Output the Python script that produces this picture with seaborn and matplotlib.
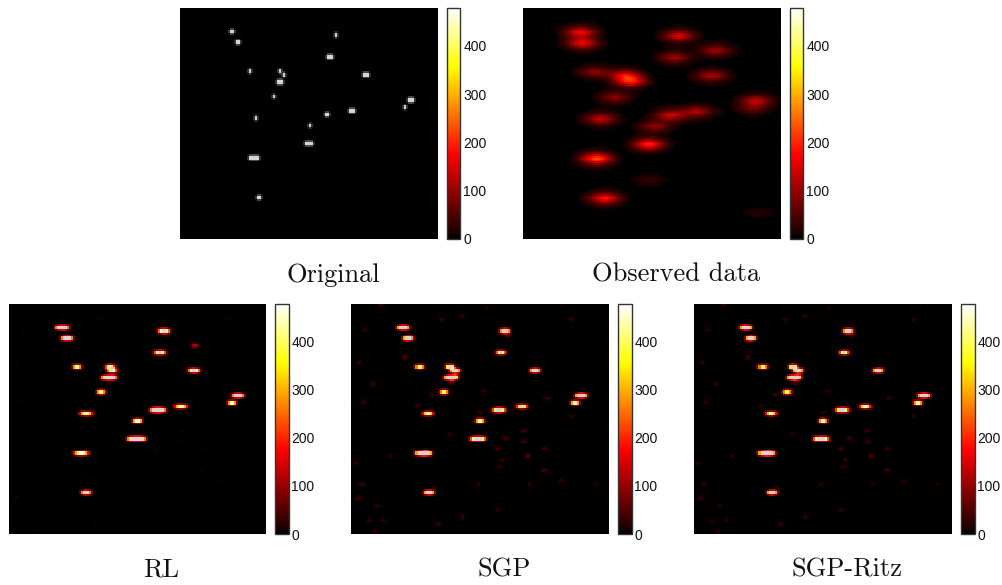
from matplotlib import pyplot as plt
from matplotlib.cm import ScalarMappable
from matplotlib.colors import ListedColormap, Normalize
import numpy as np
import seaborn as sns

VMAX = 478
GRID = 128
tick_values = [0, 100, 200, 300, 400]

# true sources: left column, width in columns, row
orig_cols = [25, 28, 77, 73, 34, 49, 51, 48, 91, 46, 113, 111, 84, 72, 37, 64, 62, 34, 38]
orig_widths = [2, 2, 1, 3, 1, 1, 1, 3, 3, 1, 3, 1, 3, 2, 1, 1, 4, 5, 2]
orig_rows = [12, 18, 14, 26, 34, 34, 36, 40, 36, 48, 50, 54, 56, 58, 60, 64, 74, 82, 104]

# observed blobs: column, row, peak
obs_cols = [28, 29, 77, 75, 95, 93, 35, 50, 53, 45, 115, 113, 38, 65, 73, 86, 62, 36, 40, 62, 116]
obs_rows = [13, 19, 15, 27, 23, 37, 35, 37, 40, 49, 51, 55, 61, 65, 59, 57, 75, 83, 105, 95, 113]
obs_peaks = [165, 160, 150, 105, 105, 115, 90, 150, 180, 90, 125, 60, 130, 95, 140, 120, 205, 235, 185, 28, 18]
psf_x = [.01, .03, .06, .1, .15, .21, .29, .38, .48, .59, .7, .8, .89, .96, 1,
         .96, .89, .8, .7, .59, .48, .38, .29, .21, .15, .1, .06, .03, .01]
psf_y = [.02, .05, .1, .2, .36, .6, .85, 1, .85, .6, .36, .2, .1, .05, .02]

# recovered sources: left column, width, row, peak
rl_cols = [24, 27, 75, 73, 92, 33, 49, 50, 47, 90, 45, 112, 110, 83, 71, 36, 63, 60, 33, 37]
rl_widths = [5, 4, 4, 4, 1, 2, 3, 3, 6, 4, 2, 4, 2, 5, 6, 5, 2, 7, 6, 3]
rl_rows = [12, 18, 14, 26, 22, 34, 34, 36, 40, 36, 48, 50, 54, 56, 58, 60, 64, 74, 82, 104]
rl_peaks = [900, 900, 850, 800, 500, 950, 720, 800, 900, 850, 950, 900, 980, 560, 900, 560, 1050, 900, 560, 900]

sgp_cols = [24, 27, 75, 73, 33, 48, 50, 47, 90, 45, 112, 110, 83, 71, 36, 63, 60, 33, 37]
sgp_widths = [4, 3, 3, 3, 2, 2, 3, 5, 3, 2, 4, 2, 4, 5, 4, 2, 6, 6, 3]
sgp_rows = [12, 18, 14, 26, 34, 34, 36, 40, 36, 48, 50, 54, 56, 58, 60, 64, 74, 82, 104]
sgp_peaks = [1000, 1000, 950, 800, 900, 1200, 1000, 1000, 1000, 900, 1000, 1000, 650, 750, 600, 1000, 800, 1000, 1000]

ritz_peaks = [1000, 1000, 950, 780, 880, 1200, 1000, 1000, 1000, 900, 1000, 980, 630, 730, 600, 980, 800, 1000, 1000]

# faint specks in the restored images: column, row, value
speck_cols = [14, 6, 26, 66, 108, 3, 10, 5, 39, 32, 54, 65, 85, 96, 108, 63, 72, 87, 95, 74, 73, 1, 4, 3, 18,
              12, 15, 85, 76, 48, 44, 8, 11, 2, 40, 62, 88, 103, 120, 95, 42, 72, 54,
              77, 49, 26, 36, 51]
speck_rows = [0, 14, 20, 2, 8, 32, 44, 54, 50, 56, 6, 48, 70, 52, 62, 60, 80, 84, 80, 86, 90, 88, 100, 107,
              84, 112, 120, 76, 74, 72, 8, 120, 126, 108, 102, 100, 100, 98, 100, 92, 122, 114, 118,
              17, 43, 29, 81, 39]
speck_vals = [30, 28, 30, 25, 28, 38, 32, 36, 40, 34, 30, 26, 42, 36, 28, 30, 46, 52, 34, 40, 30, 26, 44, 26,
              24, 30, 30, 48, 44, 26, 28, 30, 30, 26, 28, 32, 30, 28, 22, 40, 34, 30, 32,
              70, 90, 50, 60, 130]

titles = ['Original', 'Observed data', 'RL', 'SGP', 'SGP-Ritz']

# pixel boxes in the picture: left, right, top, bottom
panel_boxes = [(180, 438, 8, 239), (523, 781, 8, 239), (9, 266, 304, 534), (351, 609, 304, 534), (694, 952, 304, 534)]
FIG_W, FIG_H = 1003, 585

blur_x = [.1, .25, .3, .25, .1]
blur_y = [.18, .64, .18]


def smooth(img, kx, ky):
    out = np.apply_along_axis(lambda r: np.convolve(r, kx, mode='same'), 1, img)
    return np.apply_along_axis(lambda c: np.convolve(c, ky, mode='same'), 0, out)


def sources(cols, widths, rows, peaks, kx=blur_x, ky=blur_y):
    img = np.zeros((GRID, GRID))
    for c, w, r, p in zip(cols, widths, rows, peaks):
        img[r:r + 2, c:c + w] = p
    return smooth(img, kx, ky)


def specks(scale):
    img = np.zeros((GRID, GRID))
    for c, r, v in zip(speck_cols, speck_rows, speck_vals):
        img[r, c:c + 2] = v * scale
    return smooth(img, [.25, .5, .25], [.25, .5, .25]) * 2.2


original = sources(orig_cols, orig_widths, orig_rows, [VMAX] * len(orig_cols), [.2, .8, .2], [.25, .75, .25])

observed = np.zeros((GRID, GRID))
for c, r, p in zip(obs_cols, obs_rows, obs_peaks):
    observed[r, c] = p
observed = smooth(observed, psf_x, psf_y)

rl = sources(rl_cols, rl_widths, rl_rows, rl_peaks) + specks(.25)
sgp = sources(sgp_cols, sgp_widths, sgp_rows, sgp_peaks) + specks(1)
ritz = sources(sgp_cols, sgp_widths, sgp_rows, ritz_peaks) + specks(.85)
images = [original, observed, rl, sgp, ritz]

# the hot map, but truly black at the bottom end
hot_colors = plt.get_cmap('hot')(np.linspace(0, 1, 256))
hot_colors[:3] = [0, 0, 0, 1]
hot = ListedColormap(hot_colors)
hot.set_over('#d4d4d4')
gray = plt.get_cmap('gray').copy()
gray.set_over('#d4d4d4')
cmaps = [gray, hot, hot, hot, hot]
norm = Normalize(0, VMAX)

sns.set_theme(style='white')
plt.rcParams['font.family'] = ['Liberation Sans', 'DejaVu Sans']
fig = plt.figure(figsize=(FIG_W / 100, FIG_H / 100), dpi=100)

for img, cmap, title, (x0, x1, y0, y1) in zip(images, cmaps, titles, panel_boxes):
    ax = fig.add_axes([x0 / FIG_W, 1 - y1 / FIG_H, (x1 - x0) / FIG_W, (y1 - y0) / FIG_H])
    sns.heatmap(img, ax=ax, cmap=cmap, vmin=0, vmax=VMAX, cbar=False,
                xticklabels=False, yticklabels=False, square=False)
    ax.set_aspect('auto')

    cax = fig.add_axes([(x1 + 9) / FIG_W, 1 - y1 / FIG_H, 13.5 / FIG_W, (y1 - y0) / FIG_H])
    cb = fig.colorbar(ScalarMappable(norm, hot), cax=cax, ticks=tick_values)
    cb.outline.set_edgecolor('#333333')
    cb.outline.set_linewidth(1)
    cax.tick_params(axis='y', which='major', direction='in', length=2.5, width=.6,
                    left=True, right=True, pad=2, labelsize=10, labelcolor='#111111', color='#222222')

    fig.text(((x0 + x1) / 2 + 24) / FIG_W, 1 - (y1 + 36) / FIG_H, title, family='cmr10', fontsize=19,
             ha='center', va='center', color='#111111')

fig.savefig('out.png', dpi=100)
